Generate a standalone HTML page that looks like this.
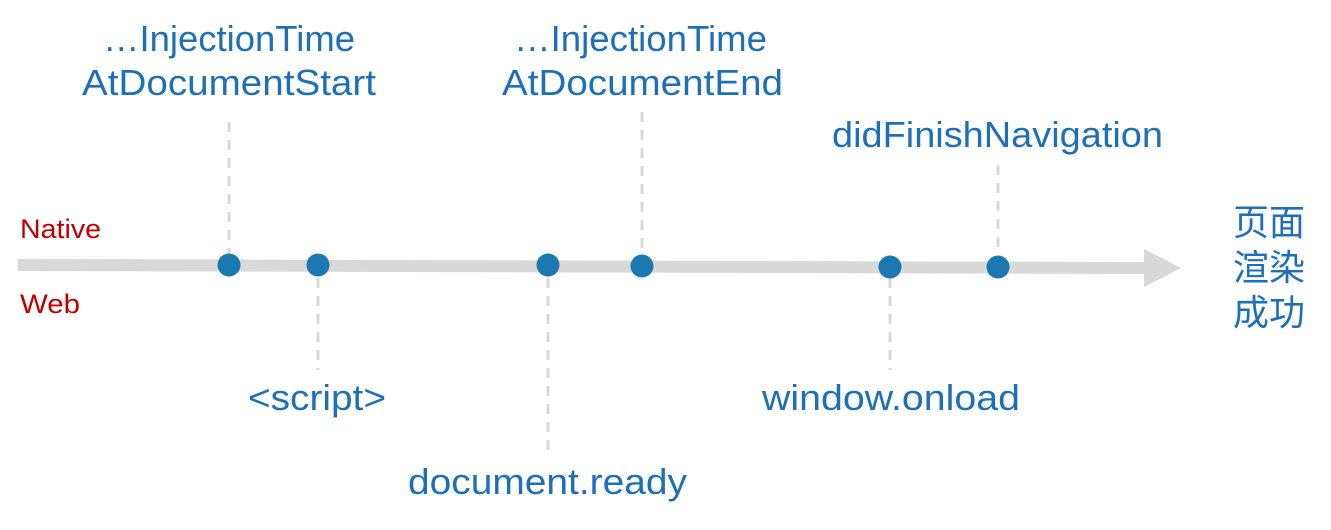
<!DOCTYPE html>
<html><head><meta charset="utf-8"><style>
body{margin:0;width:1331px;height:525px;background:#fff;overflow:hidden}
</style></head><body>
<svg width="1331" height="525" xmlns="http://www.w3.org/2000/svg">
<g stroke="#d9d9d9" stroke-width="3" stroke-dasharray="10,8">
<line x1="229" y1="122" x2="229" y2="255"/>
<line x1="318" y1="278" x2="318" y2="370"/>
<line x1="548" y1="278" x2="548" y2="452"/>
<line x1="642" y1="112" x2="642" y2="255"/>
<line x1="890" y1="278" x2="890" y2="370"/>
<line x1="998" y1="165" x2="998" y2="255"/>
</g>
<polygon points="18,259 1146,262 1146,274 18,271" fill="#d9d9d9"/>
<polygon points="1144,249 1181,268 1144,287" fill="#d9d9d9"/>
<g fill="#1b78b0">
<circle cx="229" cy="265" r="11.5"/><circle cx="318" cy="265" r="11.5"/>
<circle cx="548" cy="265" r="11.5"/><circle cx="642" cy="266" r="11.5"/>
<circle cx="890" cy="267" r="11.5"/><circle cx="998" cy="267" r="11.5"/>
</g>
<g font-family="Liberation Sans, Noto Sans CJK SC, sans-serif" font-size="36" fill="#1d6fb8" lengthAdjust="spacingAndGlyphs">
<text x="103" y="51" textLength="252" lengthAdjust="spacingAndGlyphs">…InjectionTime</text>
<text x="82" y="95" textLength="294" lengthAdjust="spacingAndGlyphs">AtDocumentStart</text>
<text x="514" y="51" textLength="253" lengthAdjust="spacingAndGlyphs">…InjectionTime</text>
<text x="502" y="95" textLength="281" lengthAdjust="spacingAndGlyphs">AtDocumentEnd</text>
<text x="832" y="147" textLength="331" lengthAdjust="spacingAndGlyphs">didFinishNavigation</text>
<text x="248" y="410" textLength="138" lengthAdjust="spacingAndGlyphs">&lt;script&gt;</text>
<text x="408" y="494" textLength="279" lengthAdjust="spacingAndGlyphs">document.ready</text>
<text x="762" y="410" textLength="258" lengthAdjust="spacingAndGlyphs">window.onload</text>
</g>
<g font-family="Liberation Sans, Noto Sans CJK SC, sans-serif" font-size="36" fill="#1d6fb8" text-anchor="middle">
<text x="1269" y="235">页面</text>
<text x="1269" y="280">渲染</text>
<text x="1269" y="325">成功</text>
</g>
<g font-family="Liberation Sans, sans-serif" font-size="27" fill="#c00000">
<text x="20" y="238" textLength="81" lengthAdjust="spacingAndGlyphs">Native</text>
<text x="20" y="313" textLength="60" lengthAdjust="spacingAndGlyphs">Web</text>
</g>
</svg>
</body></html>
